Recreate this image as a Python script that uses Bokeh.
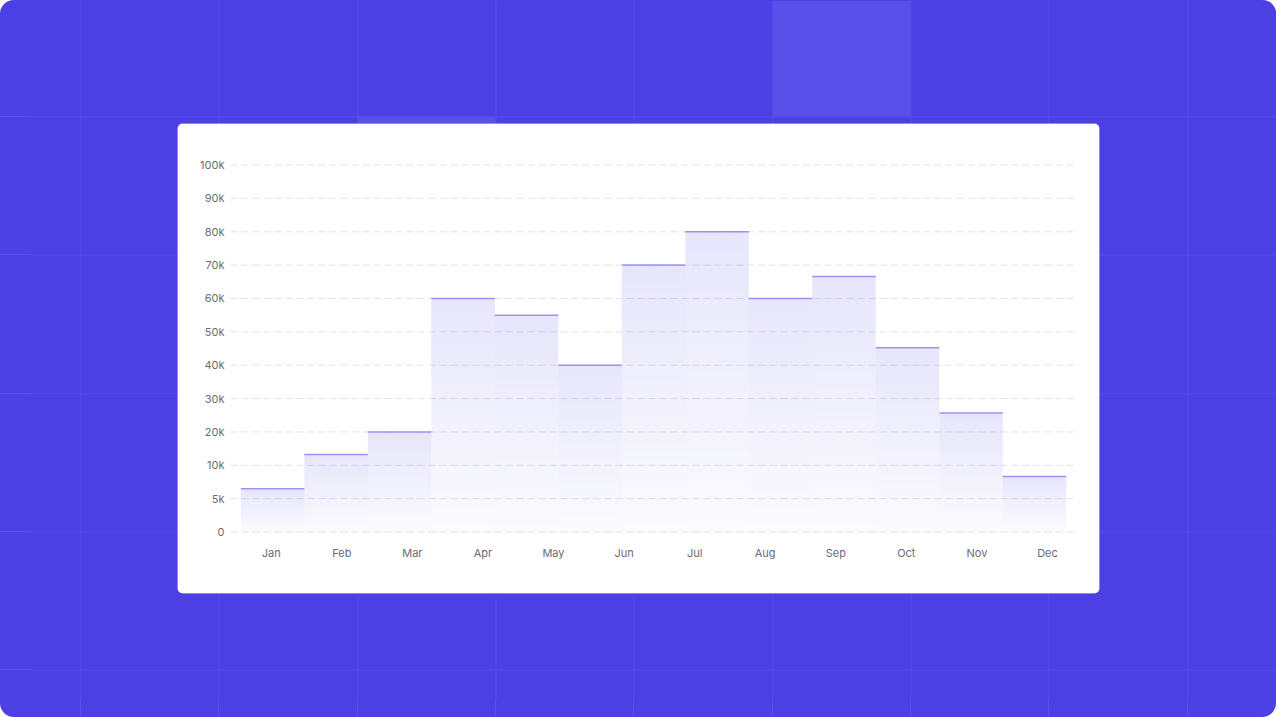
import numpy as np
from bokeh.plotting import figure
from bokeh.models import BoxAnnotation, ColumnDataSource, FixedTicker, Range1d
from bokeh.embed import file_html
from bokeh.resources import INLINE

months = ["Jan", "Feb", "Mar", "Apr", "May", "Jun",
          "Jul", "Aug", "Sep", "Oct", "Nov", "Dec"]
# the stepped area has 13 steps under the 12 month labels
step_values = [6500, 13200, 20000, 60000, 55000, 40000, 70000,
               80000, 60000, 66600, 45200, 25700, 8300]
y_tick_values = [0, 5000, 10000, 20000, 30000, 40000, 50000,
                 60000, 70000, 80000, 90000, 100000]
y_tick_labels = ["0", "5k", "10k", "20k", "30k", "40k", "50k",
                 "60k", "70k", "80k", "90k", "100k"]

W, H = 1276, 717
BORDER_L, BORDER_B = 30, 18      # room for the axis panels, frame covers the rest
BG = "#4c3fe4"
BG_LINE = "#5a4fe8"
BG_CELL = "#5a4fe8"
LABEL_COLOR = "#6b6b72"

# page pixel geometry of the chart: Jan label x, px per month, y of 0, px per tick step
X0_PX, X_STEP = 270.7, 70.57
Y0_PX, Y_STEP = 531.5, 33.36


def fx(px):
    return (px - X0_PX) / X_STEP


def fy(py):
    return (Y0_PX - py) / Y_STEP


# y axis: ticks evenly spaced, values mapped piecewise between them
tick_pos = np.arange(len(y_tick_values))


def ypos(v):
    return float(np.interp(v, y_tick_values, tick_pos))


step_x0, step_w = fx(240.3), 63.5 / X_STEP
lefts = [step_x0 + i * step_w for i in range(len(step_values))]
rights = [l + step_w for l in lefts]
tops = [ypos(v) for v in step_values]

# vertical gradient: thin slices, more opaque towards each step's top
n_slices = 30
base_alpha, top_alpha = 0.02, 0.14
g = dict(left=[], right=[], bottom=[], top=[], alpha=[])
for l, r, t in zip(lefts, rights, tops):
    for k in range(n_slices):
        g["left"].append(l); g["right"].append(r)
        g["bottom"].append(t * k / n_slices); g["top"].append(t * (k + 1) / n_slices)
        g["alpha"].append(base_alpha + (top_alpha - base_alpha) * (k + 0.5) / n_slices)

# page background grid (pixel rows / columns)
vx = [80, 218, 357, 495, 633, 772, 910, 1048, 1187]
hy = [116, 254, 393, 531, 669]


def css_lines(direction, coords):
    stops, prev = [], 0
    for c in coords:
        stops.append(f"transparent {prev}px {c}px, {BG_LINE} {c}px {c + 1}px")
        prev = c + 1
    stops.append(f"transparent {prev}px")
    return f"linear-gradient({direction}, " + ", ".join(stops) + ")"


p = figure(
    width=W, height=H,
    x_range=Range1d(fx(BORDER_L), fx(W)), y_range=Range1d(fy(H - BORDER_B), fy(0)),
    min_border_left=BORDER_L, min_border_right=0,
    min_border_top=0, min_border_bottom=BORDER_B,
    border_fill_color=None, background_fill_color=BG,
    outline_line_color=None,
    output_backend="svg", toolbar_location=None, tools="",
)
# the axis panels are transparent: the page colour and its grid come from behind
p.styles = {
    "background-color": BG,
    "background-image": css_lines("to bottom", hy) + ", " + css_lines("to right", vx),
    "border-radius": "14px",
    "overflow": "hidden",
}

# background: lighter cells, grid lines, white card
p.quad(left=[fx(772), fx(357)], right=[fx(910), fx(495)],
       top=[fy(0), fy(116)], bottom=[fy(116), fy(254)],
       fill_color=BG_CELL, line_color=None, level="image")
p.segment(x0=[fx(x + 0.5) for x in vx], x1=[fx(x + 0.5) for x in vx],
          y0=fy(0), y1=fy(H), line_color=BG_LINE, line_width=1, level="image")
p.segment(x0=fx(0), x1=fx(W), y0=[fy(y + 0.5) for y in hy], y1=[fy(y + 0.5) for y in hy],
          line_color=BG_LINE, line_width=1, level="image")
p.add_layout(BoxAnnotation(left=fx(177), right=fx(1099), top=fy(123), bottom=fy(593),
                           fill_color="white", fill_alpha=1, line_color="#1e1b4b",
                           line_alpha=0.15, line_width=1, border_radius=5,
                           level="underlay"))

# dashed value grid inside the card
p.segment(x0=fx(230), x1=fx(1077), y0=list(tick_pos), y1=list(tick_pos),
          line_color="#e2e2ea", line_width=1, line_dash="7 4")

p.quad(left="left", right="right", bottom="bottom", top="top",
       source=ColumnDataSource(g), fill_color="#4f46e5",
       fill_alpha="alpha", line_color=None)
p.segment(x0=lefts, x1=rights, y0=tops, y1=tops,
          line_color="#9a93f2", line_width=1.5)

p.xgrid.visible = False
p.ygrid.visible = False

p.yaxis.ticker = FixedTicker(ticks=list(tick_pos))
p.yaxis.major_label_overrides = {int(i): s for i, s in zip(tick_pos, y_tick_labels)}
p.yaxis.fixed_location = fx(224)
p.xaxis.ticker = FixedTicker(ticks=list(range(len(months))))
p.xaxis.major_label_overrides = {i: m for i, m in enumerate(months)}
p.xaxis.fixed_location = fy(545)
for ax in (p.xaxis, p.yaxis):
    ax.axis_line_color = None
    ax.major_tick_line_color = None
    ax.minor_tick_line_color = None
    ax.major_tick_out = 0
    ax.major_label_standoff = 0
    ax.major_label_text_font = "Inter"
    ax.major_label_text_font_size = "11px"
    ax.major_label_text_color = LABEL_COLOR

open("out.html", "w").write(file_html(p, INLINE))
